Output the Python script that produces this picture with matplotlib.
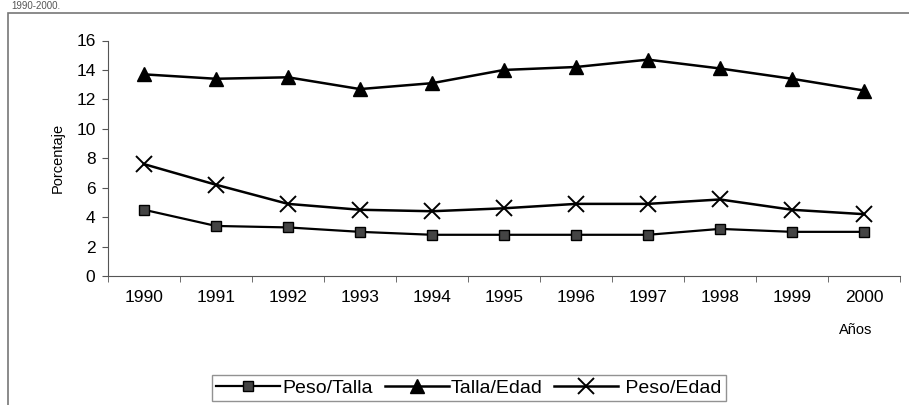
import matplotlib.pyplot as plt
from matplotlib.patches import Rectangle
import numpy as np

plt.rcParams['font.family'] = ['Liberation Sans', 'DejaVu Sans']

years = ["1990", "1991", "1992", "1993", "1994", "1995", "1996", "1997", "1998", "1999", "2000"]
peso_talla = [4.5, 3.4, 3.3, 3.0, 2.8, 2.8, 2.8, 2.8, 3.2, 3.0, 3.0]
talla_edad = [13.7, 13.4, 13.5, 12.7, 13.1, 14.0, 14.2, 14.7, 14.1, 13.4, 12.6]
peso_edad = [7.6, 6.2, 4.9, 4.5, 4.4, 4.6, 4.9, 4.9, 5.2, 4.5, 4.2]


def main():
    fig = plt.figure(figsize=(9.09, 4.05), dpi=100)

    # outer frame, right and bottom run off the page
    fig.patches.append(Rectangle((8 / 909, -0.05), 1.2, 1 - 13 / 405 + 0.05,
                                 transform=fig.transFigure, fill=False,
                                 edgecolor="#777777", linewidth=1.2))
    fig.text(0.012, 0.998, "1990-2000.", fontsize=7, va="top", ha="left", color="#555555")

    ax = fig.add_axes([108 / 909, 1 - 276 / 405, (900 - 108) / 909, (276 - 40.5) / 405])
    x = np.arange(len(years))

    ax.plot(x, peso_talla, color="black", lw=1.6, marker="s", ms=7.5,
            mfc="#444444", mec="black", mew=1, label="Peso/Talla")
    ax.plot(x, talla_edad, color="black", lw=1.8, marker="^", ms=9.5,
            mfc="black", mec="black", label="Talla/Edad")
    ax.plot(x, peso_edad, color="black", lw=1.8, marker="x", ms=11,
            mew=1.4, mec="black", label=" Peso/Edad")

    ax.set_xlim(-0.5, len(years) - 0.5)
    ax.set_ylim(0, 16)
    ax.set_yticks(range(0, 17, 2))
    ax.set_xticks(x)
    ax.set_xticklabels(years)
    ax.set_xticks(np.arange(-0.5, len(years)), minor=True)
    ax.tick_params(axis="x", which="major", length=0, pad=10, labelsize=12.5)
    ax.tick_params(axis="x", which="minor", length=4, direction="out", color="#555555")
    ax.tick_params(axis="y", length=4, direction="out", labelsize=12.5, pad=5,
                   color="#555555")

    for side in ["top", "right"]:
        ax.spines[side].set_visible(False)
    for side in ["left", "bottom"]:
        ax.spines[side].set_color("#555555")

    ax.set_ylabel("Porcentaje", fontsize=10.5, labelpad=8)
    fig.text(856 / 909, 1 - 330 / 405, "Años", fontsize=10.5, ha="center", va="center")

    fig.legend(loc="center", bbox_to_anchor=(469 / 909, 1 - 388 / 405), ncol=3,
               fontsize=14, frameon=True, fancybox=False, edgecolor="#777777",
               handlelength=3.3, handletextpad=0.1, columnspacing=0.6,
               borderpad=0.2, borderaxespad=0)

    plt.savefig("out.png", dpi=100)


if __name__ == "__main__":
    main()
